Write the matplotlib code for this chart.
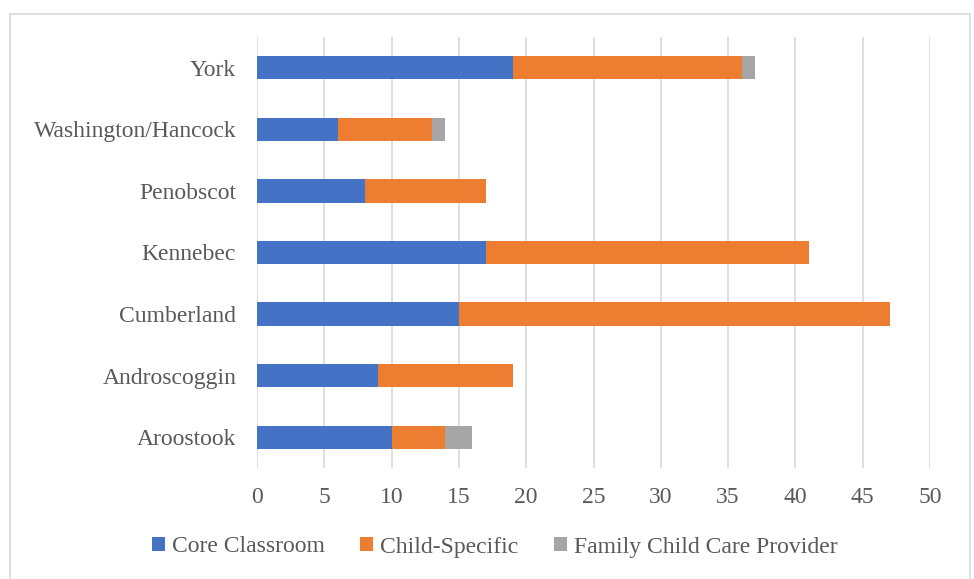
import matplotlib
matplotlib.use("Agg")
import matplotlib.pyplot as plt
from matplotlib.patches import Rectangle
import numpy as np

regions = ["Aroostook", "Androscoggin", "Cumberland", "Kennebec",
           "Penobscot", "Washington/Hancock", "York"]
core = [10, 9, 15, 17, 8, 6, 19]
child = [4, 10, 32, 24, 9, 7, 17]
family = [2, 0, 0, 0, 0, 1, 1]
series = ["Core Classroom", "Child-Specific", "Family Child Care Provider"]
colors = ["#4472C4", "#ED7D31", "#A5A5A5"]

plt.rcParams['font.family'] = ['Liberation Serif', 'DejaVu Serif']
txt = "#595959"

fig = plt.figure(figsize=(9.74, 5.79), dpi=100)
fig.patches.append(Rectangle((10/974, -0.01), 960/974, 1 - 14/579 + 0.01,
                             transform=fig.transFigure, fill=False,
                             ec="#d9d9d9", lw=1.2))
ax = fig.add_axes([257/974, 1 - 468/579, 673/974, 431/579])

y = np.arange(len(regions))
left = np.zeros(len(regions))
for vals, name, c in zip([core, child, family], series, colors):
    ax.barh(y, vals, left=left, height=0.38, color=c, label=name, zorder=3)
    left += np.array(vals)

ax.set_xlim(0, 50)
ax.set_ylim(-0.5, len(regions) - 0.5)
ax.set_xticks(range(0, 51, 5))
ax.set_yticks(y)
ax.set_yticklabels(regions)
ax.grid(axis="x", color="#d9d9d9", lw=1.2, zorder=0)
for s in ax.spines.values():
    s.set_visible(False)
ax.tick_params(length=0, labelsize=17, colors=txt)
ax.tick_params(axis="y", pad=15)
ax.tick_params(axis="x", pad=14)

fig.legend(loc="center", bbox_to_anchor=(0.508, 1 - 547/579), ncol=3,
           frameon=False, fontsize=17, labelcolor=txt, handlelength=0.55,
           handleheight=0.55, handletextpad=0.3, columnspacing=1.5)

fig.savefig("out.png", dpi=100)
